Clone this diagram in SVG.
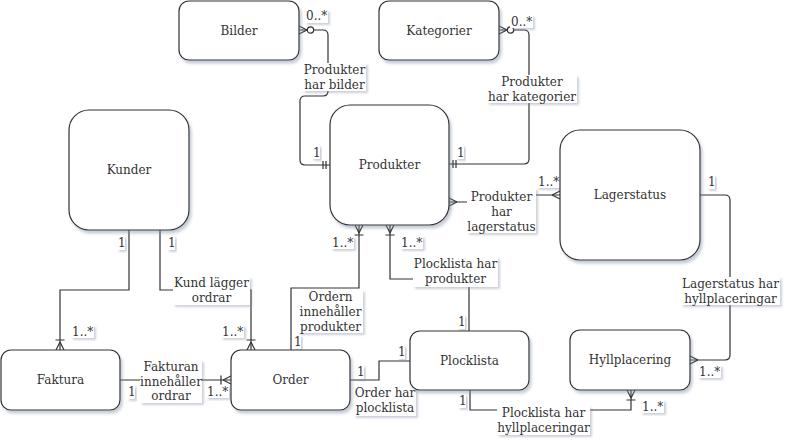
<svg xmlns="http://www.w3.org/2000/svg" width="790" height="447" viewBox="0 0 790 447">
<style>
.node{fill:#ffffff;stroke:#333333;stroke-width:1.2;filter:url(#sh)}
.t{font-family:"DejaVu Serif",serif;font-size:12px;fill:#333333}
.c{text-anchor:middle}
.lb{fill:#ffffff;stroke:none;filter:url(#sh2)}
.e{fill:none;stroke:#333333;stroke-width:1.2}
</style>
<defs>
<filter id="sh" x="-20%" y="-20%" width="140%" height="140%">
<feDropShadow dx="2" dy="3" stdDeviation="1.5" flood-color="#7f8ca3" flood-opacity="0.45"/>
</filter>
<filter id="sh2" x="-20%" y="-20%" width="140%" height="140%">
<feDropShadow dx="2" dy="2" stdDeviation="1.2" flood-color="#7f8ca3" flood-opacity="0.4"/>
</filter>
<marker id="many" viewBox="-14 -7 16 14" refX="0" refY="0" markerWidth="16" markerHeight="14" markerUnits="userSpaceOnUse" orient="auto-start-reverse">
<path d="M-8,0 L0,-4 M-8,0 L0,4" fill="none" stroke="#333333" stroke-width="1.2"/>
</marker>
<marker id="oneMany" viewBox="-14 -7 16 14" refX="0" refY="0" markerWidth="16" markerHeight="14" markerUnits="userSpaceOnUse" orient="auto-start-reverse">
<path d="M-8,0 L0,-4 M-8,0 L0,4 M-10,-4.5 L-10,4.5" fill="none" stroke="#333333" stroke-width="1.2"/>
</marker>
<marker id="mandOne" viewBox="-14 -7 16 14" refX="0" refY="0" markerWidth="16" markerHeight="14" markerUnits="userSpaceOnUse" orient="auto-start-reverse">
<path d="M-4,-4 L-4,4 M-7,-4 L-7,4" fill="none" stroke="#333333" stroke-width="1.2"/>
</marker>
<marker id="zeroMany" viewBox="-18 -7 20 14" refX="0" refY="0" markerWidth="20" markerHeight="14" markerUnits="userSpaceOnUse" orient="auto-start-reverse">
<path d="M-8,0 L0,-4 M-8,0 L0,4" fill="none" stroke="#333333" stroke-width="1.2"/>
<circle cx="-11.5" cy="0" r="3.2" fill="#ffffff" stroke="#333333" stroke-width="1.2"/>
</marker>
</defs>
<rect width="790" height="447" fill="#ffffff"/>

<g id="connectors">
<path class="e" d="M330,165 L305,165 Q300,165 300,160 L300,101 Q300,96 305,96 L323,96 Q328,96 328,91 L328,35 Q328,30 323,30 L299,30" marker-start="url(#mandOne)" marker-end="url(#zeroMany)"/>
<path class="e" d="M449,164 L524,164 Q529,164 529,159 L529,35 Q529,30 524,30 L499,30" marker-start="url(#mandOne)" marker-end="url(#zeroMany)"/>
<path class="e" d="M449,202 L500,202 L500,195 L560,195" marker-start="url(#many)" marker-end="url(#many)"/>
<path class="e" d="M700,195 L725,195 Q730,195 730,200 L730,355 Q730,360 725,360 L690,360" marker-end="url(#many)"/>
<path class="e" d="M129,230 L129,290 L60,290 L60,350" marker-end="url(#oneMany)"/>
<path class="e" d="M160,230 L160,290 L251,290 L251,350" marker-end="url(#oneMany)"/>
<path class="e" d="M120,380 L231,380" marker-end="url(#oneMany)"/>
<path class="e" d="M291,350 L291,288 L359,288 L359,225" marker-end="url(#oneMany)"/>
<path class="e" d="M469,331 L469,279 L390,279 L390,225" marker-end="url(#oneMany)"/>
<path class="e" d="M350,380 L379,380 L379,361 L410,361"/>
<path class="e" d="M470,390 L470,410 L631,410 L631,390" marker-end="url(#oneMany)"/>

<g id="edge-labels">
<rect class="lb" x="303" y="63" width="63" height="28"/>
<text class="t c"><tspan x="334.5" y="74">Produkter</tspan><tspan x="334.5" y="89">har bilder</tspan></text>
<rect class="lb" x="487" y="75" width="90" height="28"/>
<text class="t c"><tspan x="532" y="86">Produkter</tspan><tspan x="532" y="101">har kategorier</tspan></text>
<rect class="lb" x="467" y="188" width="69" height="45"/>
<text class="t c"><tspan x="501.5" y="201">Produkter</tspan><tspan x="501.5" y="216">har</tspan><tspan x="501.5" y="231">lagerstatus</tspan></text>
<rect class="lb" x="681" y="277" width="99" height="28"/>
<text class="t c"><tspan x="730.5" y="288">Lagerstatus har</tspan><tspan x="730.5" y="303">hyllplaceringar</tspan></text>
<rect class="lb" x="173" y="277" width="77" height="28"/>
<text class="t c"><tspan x="211.5" y="287">Kund lägger</tspan><tspan x="211.5" y="302">ordrar</tspan></text>
<rect class="lb" x="140" y="360" width="62" height="43"/>
<text class="t c"><tspan x="171" y="371">Fakturan</tspan><tspan x="171" y="386">innehåller</tspan><tspan x="171" y="400">ordrar</tspan></text>
<rect class="lb" x="298" y="290" width="65" height="43"/>
<text class="t c"><tspan x="330.5" y="301">Ordern</tspan><tspan x="330.5" y="316">innehåller</tspan><tspan x="330.5" y="331">produkter</tspan></text>
<rect class="lb" x="413" y="257" width="85" height="30"/>
<text class="t c"><tspan x="455.5" y="268">Plocklista har</tspan><tspan x="455.5" y="283">produkter</tspan></text>
<rect class="lb" x="354" y="386" width="62" height="30"/>
<text class="t c"><tspan x="385" y="397">Order har</tspan><tspan x="385" y="412">plocklista</tspan></text>
<rect class="lb" x="497" y="406" width="93" height="29"/>
<text class="t c"><tspan x="543.5" y="417">Plocklista har</tspan><tspan x="543.5" y="432">hyllplaceringar</tspan></text>

<rect class="lb" x="305" y="10" width="23" height="13"/><text class="t" x="306" y="20">0..*</text>
<rect class="lb" x="312" y="145" width="8" height="14"/><text class="t" x="313" y="157">1</text>
<rect class="lb" x="510" y="15" width="23" height="13"/><text class="t" x="511" y="26">0..*</text>
<rect class="lb" x="456" y="145" width="8" height="14"/><text class="t" x="457" y="157">1</text>
<rect class="lb" x="426" y="195" width="23" height="13"/><text class="t" x="427" y="206">1..*</text>
<rect class="lb" x="537" y="175" width="23" height="13"/><text class="t" x="538" y="186">1..*</text>
<rect class="lb" x="707" y="175" width="8" height="14"/><text class="t" x="708" y="186">1</text>
<rect class="lb" x="698" y="365" width="23" height="13"/><text class="t" x="699" y="376">1..*</text>
<rect class="lb" x="117" y="236" width="8" height="14"/><text class="t" x="118" y="247">1</text>
<rect class="lb" x="167" y="236" width="8" height="14"/><text class="t" x="168" y="247">1</text>
<rect class="lb" x="71" y="325" width="23" height="13"/><text class="t" x="72" y="336">1..*</text>
<rect class="lb" x="221" y="325" width="23" height="13"/><text class="t" x="222" y="336">1..*</text>
<rect class="lb" x="127" y="385" width="8" height="14"/><text class="t" x="128" y="396">1</text>
<rect class="lb" x="206" y="385" width="23" height="13"/><text class="t" x="207" y="396">1..*</text>
<rect class="lb" x="331" y="236" width="23" height="13"/><text class="t" x="332" y="247">1..*</text>
<rect class="lb" x="400" y="236" width="23" height="13"/><text class="t" x="401" y="247">1..*</text>
<rect class="lb" x="457" y="315" width="8" height="14"/><text class="t" x="458" y="326">1</text>
<rect class="lb" x="293" y="335" width="8" height="14"/><text class="t" x="294" y="346">1</text>
<rect class="lb" x="356" y="365" width="8" height="14"/><text class="t" x="357" y="376">1</text>
<rect class="lb" x="397" y="345" width="8" height="14"/><text class="t" x="398" y="356">1</text>
<rect class="lb" x="458" y="394" width="8" height="14"/><text class="t" x="459" y="405">1</text>
<rect class="lb" x="641" y="400" width="23" height="13"/><text class="t" x="642" y="411">1..*</text>
</g>
</g>

<g id="node-bilder"><rect class="node" x="179" y="1" width="120" height="59" rx="10"/><text class="t c" x="239" y="35">Bilder</text></g>
<g id="node-kategorier"><rect class="node" x="379" y="1" width="120" height="59" rx="10"/><text class="t c" x="439" y="35">Kategorier</text></g>
<g id="node-produkter"><rect class="node" x="330" y="105" width="119" height="120" rx="20"/><text class="t c" x="389.5" y="169">Produkter</text></g>
<g id="node-lagerstatus"><rect class="node" x="560" y="130" width="140" height="130" rx="20"/><text class="t c" x="630" y="199">Lagerstatus</text></g>
<g id="node-kunder"><rect class="node" x="69" y="110" width="120" height="120" rx="20"/><text class="t c" x="129" y="174">Kunder</text></g>
<g id="node-faktura"><rect class="node" x="1" y="350" width="119" height="60" rx="10"/><text class="t c" x="60.5" y="384">Faktura</text></g>
<g id="node-order"><rect class="node" x="231" y="350" width="119" height="60" rx="10"/><text class="t c" x="290.5" y="384">Order</text></g>
<g id="node-plocklista"><rect class="node" x="410" y="331" width="119" height="59" rx="10"/><text class="t c" x="469.5" y="365">Plocklista</text></g>
<g id="node-hyllplacering"><rect class="node" x="570" y="330" width="120" height="60" rx="10"/><text class="t c" x="630" y="364">Hyllplacering</text></g>
</svg>
